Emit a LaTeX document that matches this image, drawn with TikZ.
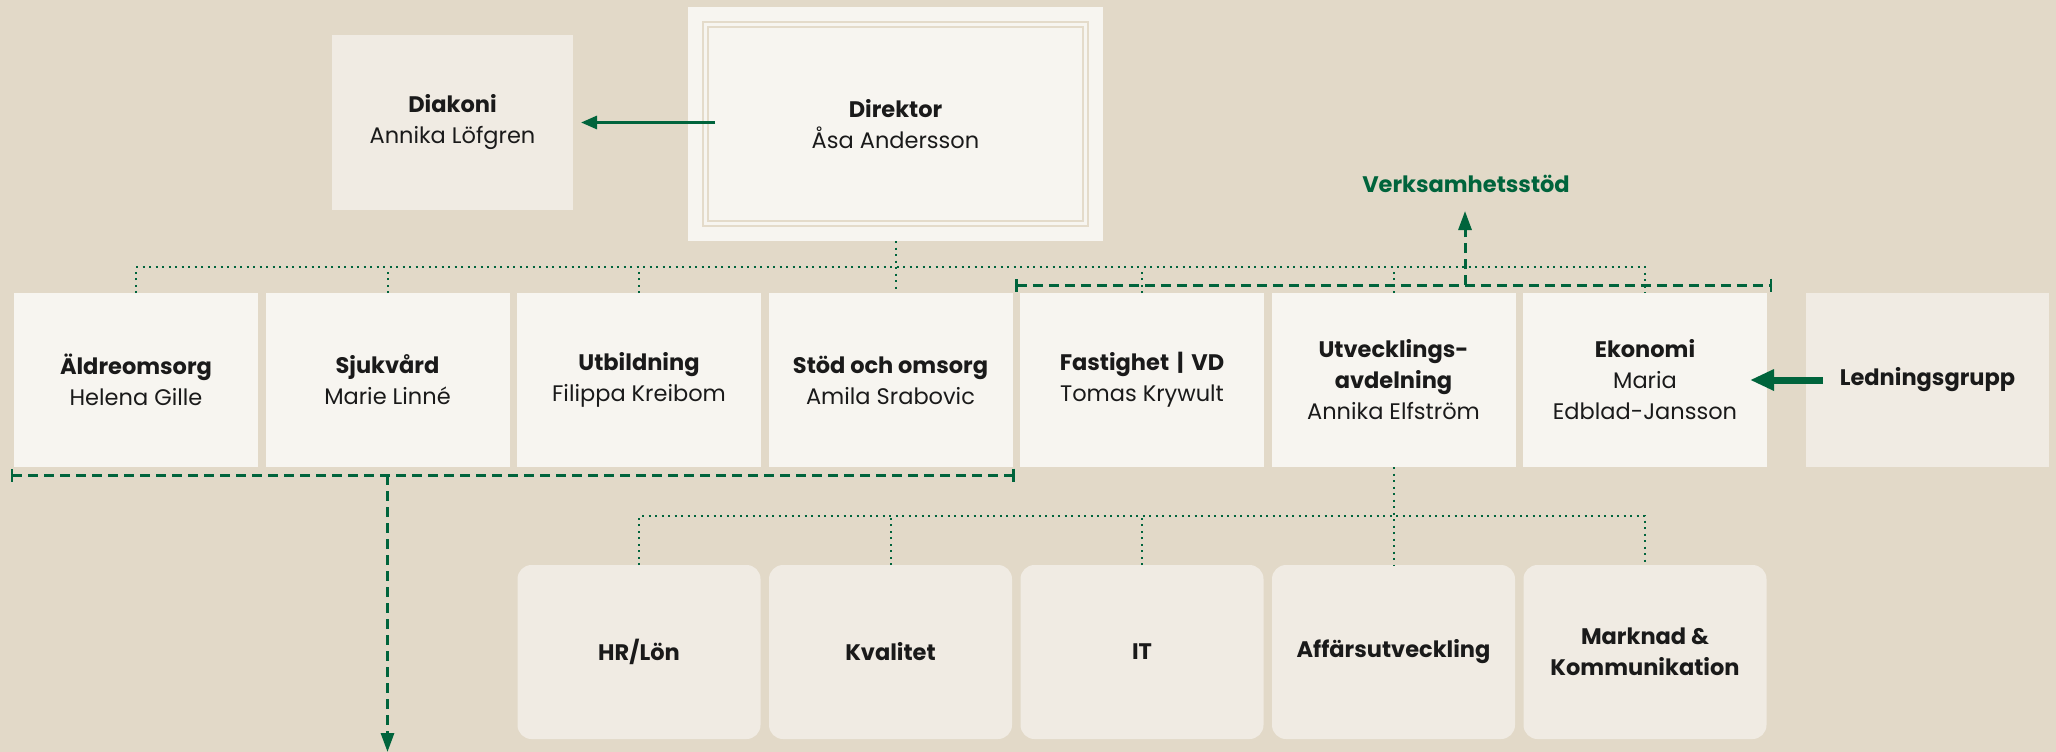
\documentclass[tikz,border=0pt]{standalone}
\usepackage{fontspec}
\setmainfont{Poppins}
\usetikzlibrary{arrows.meta,calc}
\definecolor{bg}{HTML}{E2D9C8}
\definecolor{boxlight}{HTML}{F7F5F0}
\definecolor{boxbeige}{HTML}{F0EBE3}
\definecolor{grn}{HTML}{00643C}
\definecolor{ink}{HTML}{1A1A1A}
\definecolor{framecol}{HTML}{E4DBCA}
\begin{document}
\begin{tikzpicture}[x=1pt,y=-1pt,
  every node/.style={inner sep=0pt, outer sep=0pt, text=ink, font=\fontsize{22.5}{31}\selectfont, align=center},
  unit/.style={fill=boxlight, minimum width=244pt, minimum height=174pt},
  staff/.style={fill=boxbeige, minimum width=243pt, minimum height=174pt},
  support/.style={fill=boxbeige, minimum width=243pt, minimum height=174pt, rounded corners=14pt},
  dotline/.style={grn, line width=2pt, dash pattern=on 2pt off 4.5pt},
  dashline/.style={grn, line width=3pt, dash pattern=on 10pt off 6pt},
  bartip/.tip={Bar[width=13pt,line width=2.5pt]},
  headtip/.tip={Triangle[length=19pt,width=13pt]}
]
\useasboundingbox (0,0) rectangle (2056,752);
\fill[bg] (0,0) rectangle (2056,752);

% Top level
\node[fill=boxlight, minimum width=415pt, minimum height=234pt] (dir) at (895.5,124) {\textbf{Direktor}\\Åsa Andersson};
\draw[framecol, line width=1.6pt] ($(dir.north west)+(15,15)$) rectangle ($(dir.south east)+(-15,-15)$);
\draw[framecol, line width=1.6pt] ($(dir.north west)+(20,20)$) rectangle ($(dir.south east)+(-20,-20)$);
\node[staff, minimum width=241pt, minimum height=175pt] (dia) at (452.5,122.5) {\textbf{Diakoni}\\Annika Löfgren};

% Row 1
\node[unit] (b1) at (136,380) {\textbf{Äldreomsorg}\\Helena Gille};
\node[unit] (b2) at (387.5,380) {\textbf{Sjukvård}\\Marie Linné};
\node[unit] (b3) at (639,380) {\textbf{Utbildning}\\Filippa Kreibom};
\node[unit] (b4) at (890.5,380) {\textbf{Stöd och omsorg}\\Amila Srabovic};
\node[unit] (b5) at (1142,380) {\textbf{Fastighet\hspace{0.35em}|\hspace{0.35em}VD}\\Tomas Krywult};
\node[unit] (b6) at (1393.5,380) {\textbf{Utvecklings-}\\\textbf{avdelning}\\Annika Elfström};
\node[unit] (b7) at (1645,380) {\textbf{Ekonomi}\\Maria\\Edblad-Jansson};
\node[staff] (led) at (1927.5,380) {\textbf{Ledningsgrupp}};

% Row 2
\node[support] (c3) at (639,652) {\textbf{HR/Lön}};
\node[support] (c4) at (890.5,652) {\textbf{Kvalitet}};
\node[support] (c5) at (1142,652) {\textbf{IT}};
\node[support] (c6) at (1393.5,652) {\textbf{Affärsutveckling}};
\node[support] (c7) at (1645,652) {\textbf{Marknad \&}\\\textbf{Kommunikation}};

\node[text=grn] (vs) at (1466,184) {\textbf{Verksamhetsstöd}};

% Dotted hierarchy lines
\coordinate (bus) at (0,267);
\coordinate (bus2) at (0,516);
\coordinate (bottom) at (0,752);
\draw[dotline] (b1.north) |- (b7.north |- bus) -- (b7.north);
\foreach \n in {b2,b3,b5,b6} \draw[dotline] (\n.north) -- (\n.north |- bus);
\draw[dotline] (dir.south) -- (dir.south |- b4.north);
\draw[dotline] (c3.north) |- (c7.north |- bus2) -- (c7.north);
\foreach \n in {c4,c5} \draw[dotline] (\n.north) -- (\n.north |- bus2);
\draw[dotline] (b6.south) -- (c6.north);

% Lower bracket and arrow
\coordinate (lbL) at ($(b1.south west)+(-3.5,8)$);
\coordinate (lbR) at ($(b4.south east)+(2,8)$);
\draw[dashline, bartip-bartip] (lbL) -- (lbR);
\draw[dashline, -headtip] (b2.south |- lbL) -- (b2.south |- bottom);

% Upper bracket and arrow
\coordinate (ubL) at ($(b5.north west)+(-5,-8)$);
\coordinate (ubR) at ($(b7.north east)+(5,-8)$);
\draw[dashline, bartip-bartip] (ubL) -- (ubR);
\coordinate (vstip) at (1465,211);
\draw[dashline, -headtip] (vstip |- ubL) -- (vstip);

% Solid arrows
\draw[grn, line width=3pt, -{Triangle[length=16pt,width=13pt]}] ($(dia.east -| dir.west)+(27,0)$) -- ($(dia.east)+(8,0)$);
\draw[grn, line width=7pt, -{Triangle[length=24pt,width=20pt]}] ($(led.west)+(17,0)$) -- ($(b7.east)+(-17,0)$);
\end{tikzpicture}
\end{document}
